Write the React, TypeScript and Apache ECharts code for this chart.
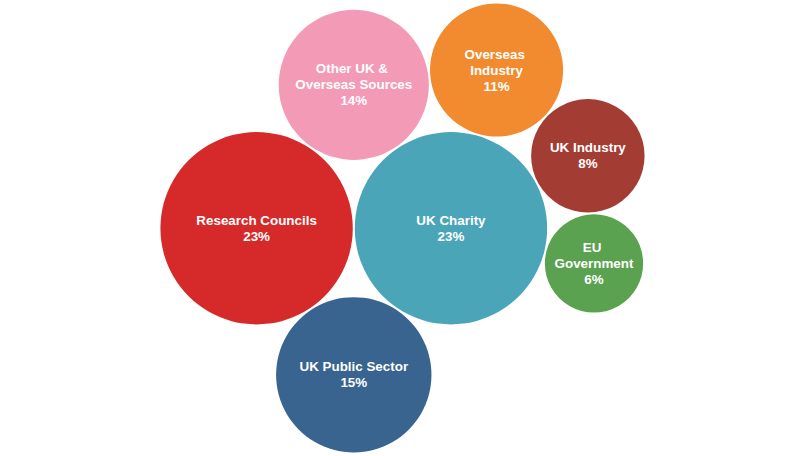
import React, { useEffect, useRef } from 'react';
import * as echarts from 'echarts';

// Funding sources (share of total, %)
const categories = [
  'Research Councils',
  'UK Charity',
  'UK Public Sector',
  'Other UK & Overseas Sources',
  'Overseas Industry',
  'UK Industry',
  'EU Government',
];
const shares = [23, 23, 15, 14, 11, 8, 6];
const colors = ['#d52a29', '#4ba5b9', '#38648f', '#f39ab7', '#f28b30', '#a33c33', '#5aa250'];
// packing topology: each bubble (from the third on) touches these two earlier bubbles
const touches: [number, number][] = [[-1, -1], [0, -1], [0, 1], [1, 0], [1, 3], [1, 4], [1, 5]];

const W = 800;
const H = 456;
const GAP = 0.1; // gap between bubbles, in radius units
const PAD = 3.5; // px
const SHIFT_X = 2.5; // px, horizontal offset of the packed group

function packLayout(values: number[]) {
  const r = values.map((v) => Math.sqrt(v));
  const pos: { x: number; y: number }[] = [];
  pos[0] = { x: 0, y: 0 };
  pos[1] = { x: r[0] + r[1] + GAP, y: 0 };
  for (let i = 2; i < values.length; i++) {
    const [a, b] = touches[i];
    const A = pos[a];
    const B = pos[b];
    const dx = B.x - A.x;
    const dy = B.y - A.y;
    const d = Math.hypot(dx, dy);
    const ra = r[a] + r[i] + GAP;
    const rb = r[b] + r[i] + GAP;
    const along = (ra * ra - rb * rb + d * d) / (2 * d);
    const h = Math.sqrt(Math.max(0, ra * ra - along * along));
    const ux = dx / d;
    const uy = dy / d;
    pos[i] = { x: A.x + along * ux - h * uy, y: A.y + along * uy + h * ux };
  }
  let minX = Infinity, maxX = -Infinity, minY = Infinity, maxY = -Infinity;
  pos.forEach((p, i) => {
    minX = Math.min(minX, p.x - r[i]);
    maxX = Math.max(maxX, p.x + r[i]);
    minY = Math.min(minY, p.y - r[i]);
    maxY = Math.max(maxY, p.y + r[i]);
  });
  return { r, pos, minX, maxX, minY, maxY };
}

export default function App() {
  const ref = useRef<HTMLDivElement>(null);
  useEffect(() => {
    if (!ref.current) return;
    const chart = echarts.init(ref.current, undefined, { renderer: 'svg' });
    const L = packLayout(shares);
    const scale = Math.min((W - 2 * PAD) / (L.maxX - L.minX), (H - 2 * PAD) / (L.maxY - L.minY));
    const cx = (L.minX + L.maxX) / 2 - SHIFT_X / scale;
    const cy = (L.minY + L.maxY) / 2;

    const data = categories.map((name, i) => {
      const diameter = 2 * L.r[i] * scale;
      return {
        name,
        value: [L.pos[i].x, L.pos[i].y, shares[i]],
        itemStyle: { color: colors[i] },
        label: { width: diameter * 0.84 },
      };
    });

    chart.setOption({
      animation: false,
      grid: { left: 0, right: 0, top: 0, bottom: 0, containLabel: false },
      xAxis: {
        type: 'value',
        show: false,
        min: cx - W / 2 / scale,
        max: cx + W / 2 / scale,
      },
      yAxis: {
        type: 'value',
        show: false,
        inverse: true,
        min: cy - H / 2 / scale,
        max: cy + H / 2 / scale,
      },
      series: [
        {
          type: 'scatter',
          data,
          symbol: 'circle',
          symbolSize: (val: number[]) => 2 * Math.sqrt(val[2]) * scale,
          itemStyle: { opacity: 1 },
          emphasis: { disabled: true },
          label: {
            show: true,
            position: 'inside',
            formatter: (p: any) => `${p.name}\n${p.value[2]}%`,
            color: '#ffffff',
            fontWeight: 'bold',
            fontSize: 13.4,
            lineHeight: 16,
            fontFamily: '"Liberation Sans", Arial, Helvetica, sans-serif',
            overflow: 'break',
            align: 'center',
          },
        },
      ],
    });
    return () => chart.dispose();
  }, []);
  return (
    <div
      ref={ref}
      style={{ position: 'fixed', left: 0, top: 0, width: W, height: H, background: '#ffffff' }}
    />
  );
}
